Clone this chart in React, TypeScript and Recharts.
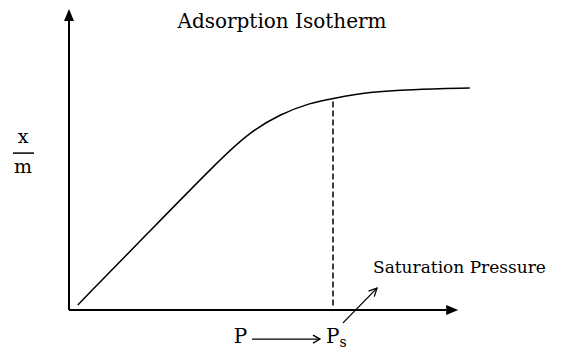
import React from "react";
import { LineChart, Line, XAxis, YAxis, ReferenceLine, ReferenceDot } from "recharts";

// amount adsorbed (x/m) against pressure P
const pressure = [0.22, 2.02, 3.78, 4.52, 5.28, 6.02, 6.58, 7.52, 8.52, 10.02];
const adsorbed = [0.17, 2.63, 5.03, 5.93, 6.53, 6.9, 7.05, 7.27, 7.35, 7.4];

const saturationP = 6.6;
const saturationY = 7.05;

const title = "Adsorption Isotherm";
const yLabelTop = "x";
const yLabelBottom = "m";
const xLabel = "P";
const satLabel = "Saturation Pressure";

const data = pressure.map((p, i) => ({ p, v: adsorbed[i] }));

const FONT = "'DejaVu Serif', serif";

const Arrow = (props: any) => {
  const { x1, y1, x2, y2, open, head = 12, half = 5, width = 2 } = props;
  const a = Math.atan2(y2 - y1, x2 - x1);
  const c = Math.cos(a);
  const s = Math.sin(a);
  const bx = x2 - head * c;
  const by = y2 - head * s;
  const lx = bx + half * s;
  const ly = by - half * c;
  const rx = bx - half * s;
  const ry = by + half * c;
  if (open) {
    return (
      <g>
        <line x1={x1} y1={y1} x2={x2} y2={y2} stroke="#000" strokeWidth={width} />
        <polyline points={`${lx},${ly} ${x2},${y2} ${rx},${ry}`} fill="none" stroke="#000" strokeWidth={width} />
      </g>
    );
  }
  return (
    <g>
      <line x1={x1} y1={y1} x2={bx} y2={by} stroke="#000" strokeWidth={width} />
      <polygon points={`${x2},${y2} ${lx},${ly} ${rx},${ry}`} fill="#000" />
    </g>
  );
};

const textAt = (content: React.ReactNode, size: number, anchor: string) => (p: any) => (
  <text x={p.cx} y={p.cy} fontFamily={FONT} fontSize={size} textAnchor={anchor} fill="#000">
    {content}
  </text>
);

export default function App() {
  return (
    <div style={{ position: "absolute", left: 0, top: 0, background: "#fff" }}>
      <LineChart width={561} height={350} data={data} margin={{ top: 0, right: 0, bottom: 0, left: 0 }}>
        <XAxis type="number" dataKey="p" domain={[-1.725, 12.3]} hide allowDataOverflow />
        <YAxis type="number" domain={[-1.3333, 10.3333]} hide allowDataOverflow />

        {/* axes */}
        <ReferenceLine segment={[{ x: 0, y: 0 }, { x: 0, y: 10.03 }]} shape={(p: any) => <Arrow {...p} />} />
        <ReferenceLine segment={[{ x: 0, y: 0 }, { x: 9.73, y: 0 }]} shape={(p: any) => <Arrow {...p} />} />

        {/* saturation drop line */}
        <ReferenceLine
          segment={[{ x: saturationP, y: 0.15 }, { x: saturationP, y: saturationY }]}
          stroke="#000"
          strokeWidth={1.5}
          strokeDasharray="6 3"
        />

        <Line
          type="basis"
          dataKey="v"
          stroke="#000"
          strokeWidth={1.5}
          dot={false}
          activeDot={false}
          isAnimationActive={false}
        />

        {/* y label x / m */}
        <ReferenceDot x={-1.15} y={5.57} r={0} shape={textAt(yLabelTop, 19, "middle")} />
        <ReferenceLine segment={[{ x: -1.4, y: 5.23 }, { x: -0.875, y: 5.23 }]} stroke="#000" strokeWidth={1.5} />
        <ReferenceDot x={-1.15} y={4.57} r={0} shape={textAt(yLabelBottom, 19, "middle")} />

        {/* title */}
        <ReferenceDot x={5.325} y={9.4} r={0} shape={textAt(title, 20, "middle")} />

        {/* P ---> Ps */}
        <ReferenceDot x={4.29} y={-1.1} r={0} shape={textAt(xLabel, 20, "middle")} />
        <ReferenceLine
          segment={[{ x: 4.575, y: -0.97 }, { x: 6.275, y: -0.97 }]}
          shape={(p: any) => <Arrow {...p} open head={7} half={4} width={1.3} />}
        />
        <ReferenceDot
          x={6.425}
          y={-1.1}
          r={0}
          shape={textAt(
            <>
              P<tspan fontSize={14} dy={4}>s</tspan>
            </>,
            20,
            "start"
          )}
        />

        {/* saturation pressure pointer */}
        <ReferenceLine
          segment={[{ x: 6.85, y: -0.43 }, { x: 7.7, y: 0.73 }]}
          shape={(p: any) => <Arrow {...p} open head={8} half={4} width={1.3} />}
        />
        <ReferenceDot x={7.6} y={1.23} r={0} shape={textAt(satLabel, 17, "start")} />
      </LineChart>
    </div>
  );
}
